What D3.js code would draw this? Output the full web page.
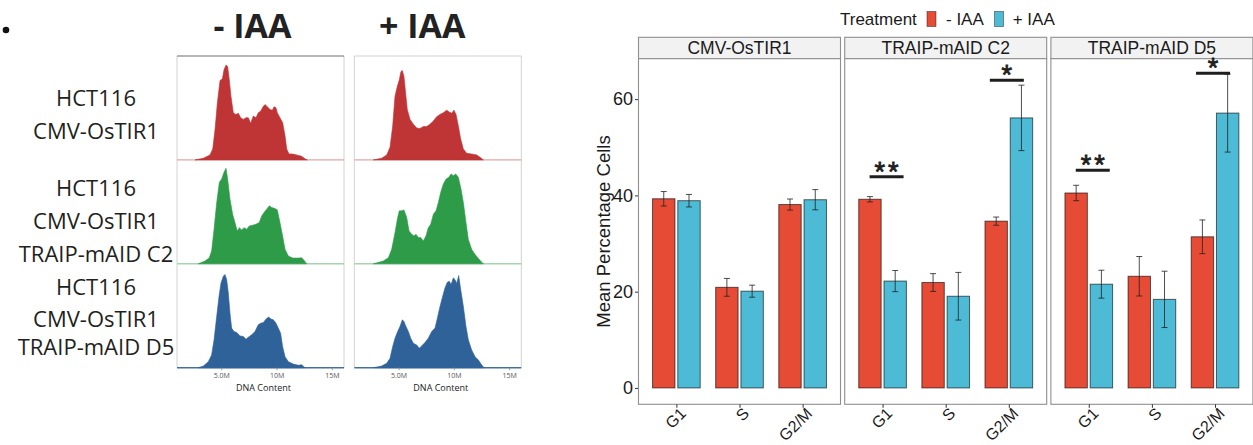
<!DOCTYPE html>
<html>
<head>
<meta charset="utf-8">
<script src="https://cdn.jsdelivr.net/npm/d3@7"></script>
<style>
  html, body { margin: 0; padding: 0; background: #fff; }
  svg { display: block; }
</style>
</head>
<body>
<svg id="fig" width="1253" height="445"></svg>
<script>
// ---------------- Data ----------------
// Flow cytometry: cell lines (rows) and treatment (columns)
const cellLineLabels = [
  ["HCT116", "CMV-OsTIR1"],
  ["HCT116", "CMV-OsTIR1", "TRAIP-mAID C2"],
  ["HCT116", "CMV-OsTIR1", "TRAIP-mAID D5"]
];
const treatments = ["- IAA", "+ IAA"];

// DNA content histograms: [DNA content (millions), relative count %]
const histOsTIR1Minus = [[2.63,0],[3.38,1.6],[3.98,4.8],[4.23,10.5],[4.44,29.5],[4.65,54.9],[4.89,76.5],[5.10,77.8],[5.25,86.7],[5.43,91.4],[5.58,89.8],[5.73,77.1],[5.88,61.3],[6.09,45.4],[6.30,43.8],[6.55,44.8],[6.76,40.6],[7.00,39.0],[7.24,40.6],[7.45,40.6],[7.66,35.2],[7.90,42.2],[8.14,40.6],[8.35,45.4],[8.57,47.0],[8.81,51.7],[8.96,53.3],[9.17,51.1],[9.41,48.6],[9.62,47.9],[9.77,51.1],[9.95,50.2],[10.07,45.4],[10.31,40.6],[10.55,35.9],[10.77,23.2],[10.92,10.5],[11.13,5.7],[11.46,5.7],[11.82,4.8],[12.27,3.5],[12.57,1.0],[12.78,0]];
const histOsTIR1Plus = [[2.72,0],[3.47,1.6],[3.93,4.8],[4.23,12.1],[4.47,32.7],[4.68,61.3],[4.89,70.8],[5.07,77.1],[5.22,85.1],[5.34,86.0],[5.49,80.3],[5.64,64.4],[5.79,48.6],[6.04,39.0],[6.34,34.3],[6.64,30.8],[6.94,30.2],[7.24,32.1],[7.54,32.1],[7.84,34.3],[8.15,37.5],[8.45,41.6],[8.75,43.8],[9.05,45.4],[9.35,47.9],[9.59,46.0],[9.81,44.8],[10.01,47.9],[10.20,43.8],[10.41,32.7],[10.62,20.0],[10.86,10.5],[11.16,6.3],[11.61,5.7],[12.06,4.8],[12.37,2.5],[12.67,0]];
const histC2Minus = [[2.93,0],[3.53,2.6],[3.92,5.8],[4.13,12.3],[4.35,33.2],[4.59,59.0],[4.83,78.4],[5.04,81.6],[5.25,88.1],[5.43,91.9],[5.58,81.6],[5.79,62.3],[6.03,47.7],[6.24,39.7],[6.45,31.6],[6.64,34.8],[6.85,32.6],[7.06,34.8],[7.30,33.2],[7.54,36.5],[7.84,37.1],[8.14,38.1],[8.44,39.7],[8.66,46.1],[8.87,49.4],[9.11,52.6],[9.35,55.8],[9.56,54.2],[9.86,53.2],[10.07,51.9],[10.31,39.7],[10.55,26.8],[10.77,13.9],[11.07,7.4],[11.46,5.5],[11.97,5.5],[12.27,5.8],[12.48,3.5],[12.72,0]];
const histC2Plus = [[2.72,0],[3.62,2.6],[4.08,5.8],[4.38,13.9],[4.68,30.0],[4.92,44.5],[5.07,51.0],[5.28,51.0],[5.49,51.9],[5.74,44.5],[5.95,31.6],[6.19,28.4],[6.40,26.8],[6.58,28.4],[6.79,25.2],[7.00,25.2],[7.24,21.9],[7.48,26.8],[7.69,34.8],[7.91,38.1],[8.15,47.7],[8.39,51.0],[8.60,59.0],[8.81,68.7],[9.05,76.8],[9.30,81.6],[9.54,83.2],[9.75,86.5],[9.96,84.8],[10.17,86.5],[10.41,83.2],[10.65,71.9],[10.86,59.0],[11.10,39.7],[11.31,23.5],[11.61,13.9],[11.92,9.0],[12.22,5.2],[12.52,1.6],[12.67,0]];
const histD5Minus = [[2.93,0],[3.38,1.6],[3.83,5.8],[4.13,12.3],[4.35,26.8],[4.59,49.4],[4.80,68.7],[4.98,81.6],[5.19,88.1],[5.34,89.7],[5.49,84.8],[5.64,71.9],[5.79,52.6],[5.94,38.1],[6.15,34.8],[6.40,33.9],[6.70,30.6],[7.00,30.0],[7.24,27.4],[7.45,29.4],[7.75,31.6],[8.05,34.8],[8.35,41.3],[8.57,42.9],[8.81,43.5],[9.05,46.8],[9.29,48.7],[9.50,46.8],[9.71,46.1],[9.95,42.9],[10.16,38.1],[10.37,33.2],[10.55,20.3],[10.77,10.6],[11.07,5.8],[11.52,3.5],[11.97,2.3],[12.27,2.9],[12.57,0]];
const histD5Plus = [[2.72,0],[3.47,1.6],[3.93,4.2],[4.23,9.0],[4.47,20.3],[4.68,28.4],[4.92,34.8],[5.13,39.7],[5.34,46.1],[5.49,44.5],[5.67,39.7],[5.89,34.8],[6.10,28.4],[6.34,23.5],[6.64,21.9],[6.88,18.7],[7.09,21.0],[7.39,24.2],[7.69,28.4],[8.00,34.8],[8.30,38.1],[8.51,47.7],[8.75,59.0],[8.99,68.7],[9.20,76.8],[9.41,82.3],[9.59,83.2],[9.75,80.0],[9.96,86.5],[10.13,84.2],[10.26,81.0],[10.44,88.7],[10.62,75.2],[10.86,59.0],[11.10,39.7],[11.31,26.8],[11.61,17.1],[11.92,10.6],[12.22,7.4],[12.52,2.6],[12.73,0]];

const dnaTicks = [5, 10, 15];
const dnaTickLabels = ["5.0M", "10M", "15M"];

// Cell-cycle phase distribution (mean % of cells, SD)
const phases = ["G1", "S", "G2/M"];
const cellLines = ["CMV-OsTIR1", "TRAIP-mAID C2", "TRAIP-mAID D5"];
const meanNoIAA = [[39.3, 20.9, 38.1], [39.2, 21.9, 34.65], [40.5, 23.2, 31.4]];
const meanIAA   = [[38.9, 20.1, 39.1], [22.2, 19.05, 56.1], [21.55, 18.4, 57.1]];
const sdNoIAA   = [[1.5, 1.85, 1.15], [0.55, 1.85, 0.85], [1.6, 4.1, 3.5]];
const sdIAA     = [[1.3, 1.25, 2.1], [2.2, 4.95, 6.8], [2.9, 5.85, 8.1]];
const yTicks = [0, 20, 40, 60];
const significance = [
  { line: "TRAIP-mAID C2", phase: "G1",   label: "**", y: 43.9 },
  { line: "TRAIP-mAID C2", phase: "G2/M", label: "*",  y: 63.9 },
  { line: "TRAIP-mAID D5", phase: "G1",   label: "**", y: 45.2 },
  { line: "TRAIP-mAID D5", phase: "G2/M", label: "*",  y: 65.4 }
];

// ---------------- Drawing ----------------
const svg = d3.select("#fig");
const sans = "'Liberation Sans', Arial, Helvetica, sans-serif";
const humanist = "'Open Sans', 'Noto Sans', sans-serif";

// ---- Left: flow cytometry histogram grid ----
const histData = [
  [histOsTIR1Minus, histOsTIR1Plus],
  [histC2Minus, histC2Plus],
  [histD5Minus, histD5Plus]
];
const histFill = ["#bf3434", "#2e9b49", "#2e6299"];
const histBase = ["#e4a6a6", "#a3d5ae", "#44709c"];
const colRange = [[177, 344], [354.3, 521.3]];
const headShift = [-8, -15.5];
const gridTop = 56, rowH = 103.9;
const gridBottom = gridTop + 3 * rowH;
const left = svg.append("g");

// bullet
left.append("circle").attr("cx", 6).attr("cy", 30).attr("r", 3.3).attr("fill", "#111");

// column headings
treatments.forEach((t, c) => {
  left.append("text")
    .attr("x", (colRange[c][0] + colRange[c][1]) / 2 + headShift[c])
    .attr("y", 38)
    .attr("text-anchor", "middle")
    .attr("font-family", humanist)
    .attr("font-weight", 700)
    .attr("font-size", 34)
    .attr("fill", "#222")
    .text(t);
});

// row labels
const labelBaselines = [[106, 139], [196, 229, 262], [295, 327, 355]];
cellLineLabels.forEach((lines, r) => {
  lines.forEach((s, i) => {
    left.append("text")
      .attr("x", 96).attr("y", labelBaselines[r][i])
      .attr("text-anchor", "middle")
      .attr("font-family", humanist)
      .attr("font-size", 22)
      .attr("fill", "#231f20")
      .text(s);
  });
});

colRange.forEach((rg, c) => {
  const x = d3.scaleLinear().domain([1.0, 16.1]).range(rg);
  // panel frame
  left.append("line").attr("x1", rg[0]).attr("x2", rg[0]).attr("y1", gridTop).attr("y2", gridBottom)
    .attr("stroke", "#d2d2d2").attr("stroke-width", 1);
  left.append("line").attr("x1", rg[1]).attr("x2", rg[1]).attr("y1", gridTop).attr("y2", gridBottom)
    .attr("stroke", "#d2d2d2").attr("stroke-width", 1);
  left.append("line").attr("x1", rg[0]).attr("x2", rg[1]).attr("y1", gridTop).attr("y2", gridTop)
    .attr("stroke", c === 0 ? "#6e6e6e" : "#d2d2d2").attr("stroke-width", 1.2);

  histData.forEach((rowSets, r) => {
    const base = gridTop + (r + 1) * rowH;
    const y = d3.scaleLinear().domain([0, 100]).range([base, base - rowH]);
    left.append("line").attr("x1", rg[0]).attr("x2", rg[1]).attr("y1", base).attr("y2", base)
      .attr("stroke", histBase[r]).attr("stroke-width", 1.4);
    const area = d3.area().x(d => x(d[0])).y0(base).y1(d => y(d[1]));
    left.append("path").datum(rowSets[c]).attr("d", area)
      .attr("fill", histFill[r]).attr("stroke", histFill[r]).attr("stroke-width", 0.6);
  });

  // DNA content axis
  const ax = left.append("g").attr("transform", `translate(0,${gridBottom})`)
    .call(d3.axisBottom(x).tickValues(dnaTicks).tickFormat((d, i) => dnaTickLabels[i]).tickSize(2.5).tickPadding(3));
  ax.select(".domain").remove();
  ax.selectAll(".tick line").attr("stroke", "#999");
  ax.selectAll(".tick text").attr("font-family", humanist).attr("font-size", 7).attr("fill", "#555");
  left.append("text")
    .attr("x", (rg[0] + rg[1]) / 2 + 3).attr("y", 391)
    .attr("text-anchor", "middle")
    .attr("font-family", humanist).attr("font-size", 9).attr("fill", "#222")
    .text("DNA Content");
});

// ---- Right: faceted bar chart ----
const colNo = "#E64B35", colYes = "#4DBBD5";
const panelLeft = 638.5, panelW = 202, panelGap = 4.2;
const stripTop = 37.3, panelTop = 58.7, panelBottom = 404.3;
const y = d3.scaleLinear().domain([-3.4, 68.4]).range([panelBottom, panelTop]);
const right = svg.append("g");

// legend
const legY = 18.5;
right.append("text").attr("x", 840).attr("y", legY + 6).attr("font-family", sans).attr("font-size", 17)
  .attr("fill", "#1a1a1a").text("Treatment");
[[927, colNo, treatments[0], 946], [994.5, colYes, treatments[1], 1012.7]].forEach(([kx, col, lab, tx]) => {
  right.append("rect").attr("x", kx).attr("y", legY - 7).attr("width", 9).attr("height", 15)
    .attr("fill", col).attr("stroke", "#000").attr("stroke-opacity", 0.5).attr("stroke-width", 0.8);
  right.append("text").attr("x", tx).attr("y", legY + 6).attr("font-family", sans).attr("font-size", 17)
    .attr("fill", "#1a1a1a").text(lab);
});

// y axis
const yAxis = right.append("g").attr("transform", `translate(${panelLeft},0)`)
  .call(d3.axisLeft(y).tickValues(yTicks).tickSize(3.5).tickPadding(2));
yAxis.select(".domain").remove();
yAxis.selectAll(".tick line").attr("stroke", "#333");
yAxis.selectAll(".tick text").attr("font-family", sans).attr("font-size", 18).attr("fill", "#1a1a1a");

right.append("text")
  .attr("transform", `translate(610,${(panelTop + panelBottom) / 2}) rotate(-90)`)
  .attr("text-anchor", "middle")
  .attr("font-family", sans).attr("font-size", 18.5).attr("fill", "#1a1a1a")
  .text("Mean Percentage Cells");

cellLines.forEach((line, li) => {
  const px = panelLeft + li * (panelW + panelGap);
  const x = d3.scalePoint().domain(phases).range([px, px + panelW]).padding(0.6);
  const step = x.step();
  const off = 0.2 * step, bw = 0.355 * step;
  const g = right.append("g");

  // strip
  g.append("rect").attr("x", px).attr("y", stripTop).attr("width", panelW).attr("height", panelTop - stripTop)
    .attr("fill", "#f2f2f2").attr("stroke", "#8f8f8f").attr("stroke-width", 1.1);
  g.append("text").attr("x", px + panelW / 2).attr("y", (stripTop + panelTop) / 2 + 6)
    .attr("text-anchor", "middle").attr("font-family", sans).attr("font-size", 17.5).attr("fill", "#1a1a1a")
    .text(line);

  // panel frame
  g.append("rect").attr("x", px).attr("y", panelTop).attr("width", panelW).attr("height", panelBottom - panelTop)
    .attr("fill", "#fff").attr("stroke", "#8f8f8f").attr("stroke-width", 1.1);

  const series = [
    { mean: meanNoIAA[li], sd: sdNoIAA[li], col: colNo, dx: -off },
    { mean: meanIAA[li],   sd: sdIAA[li],   col: colYes, dx: off }
  ];
  series.forEach(s => {
    phases.forEach((ph, pi) => {
      const cx = x(ph) + s.dx;
      g.append("rect").attr("x", cx - bw / 2).attr("y", y(s.mean[pi]))
        .attr("width", bw).attr("height", y(0) - y(s.mean[pi]))
        .attr("fill", s.col).attr("stroke", "#000").attr("stroke-opacity", 0.6).attr("stroke-width", 1);
    });
  });
  series.forEach(s => {
    phases.forEach((ph, pi) => {
      const cx = x(ph) + s.dx;
      const hi = y(s.mean[pi] + s.sd[pi]), lo = y(s.mean[pi] - s.sd[pi]);
      const eb = g.append("g").attr("stroke", "#222").attr("stroke-opacity", 0.8).attr("stroke-width", 1);
      eb.append("line").attr("x1", cx).attr("x2", cx).attr("y1", hi).attr("y2", lo);
      eb.append("line").attr("x1", cx - 3).attr("x2", cx + 3).attr("y1", hi).attr("y2", hi);
      eb.append("line").attr("x1", cx - 3).attr("x2", cx + 3).attr("y1", lo).attr("y2", lo);
    });
  });

  // significance marks
  significance.filter(s => s.line === line).forEach(s => {
    const cx = x(s.phase) + (s.phase === "G1" ? 4 : -2);
    const by = y(s.y);
    g.append("line").attr("x1", cx - 17).attr("x2", cx + 17).attr("y1", by).attr("y2", by)
      .attr("stroke", "#1e1e1e").attr("stroke-width", 3);
    g.append("text").attr("x", cx + (s.label.length > 1 ? 1.5 : 0)).attr("y", by + 4)
      .attr("text-anchor", "middle").attr("font-family", sans).attr("font-size", 27)
      .attr("letter-spacing", s.label.length > 1 ? 3 : 0)
      .attr("fill", "#1e1e1e").attr("stroke", "#1e1e1e").attr("stroke-width", 0.8)
      .text(s.label);
  });

  // x axis
  const xa = g.append("g").attr("transform", `translate(0,${panelBottom})`)
    .call(d3.axisBottom(x).tickSize(3.5).tickFormat(""));
  xa.select(".domain").remove();
  xa.selectAll(".tick line").attr("stroke", "#333");
  phases.forEach(ph => {
    g.append("text")
      .attr("transform", `translate(${x(ph) + 2.5},${panelBottom + 2}) rotate(-45)`)
      .attr("text-anchor", "end").attr("dy", "0.72em")
      .attr("font-family", sans).attr("font-size", 16).attr("fill", "#1a1a1a")
      .text(ph);
  });
});
</script>
</body>
</html>
